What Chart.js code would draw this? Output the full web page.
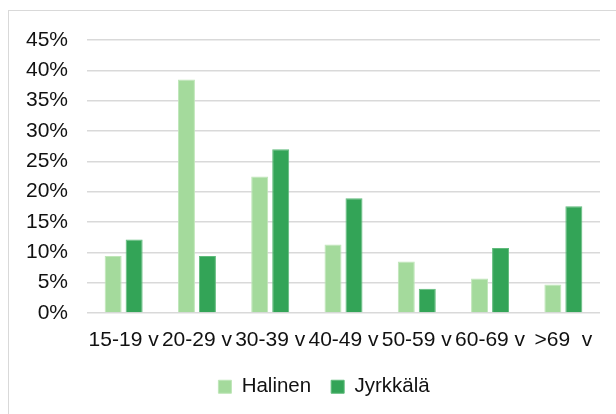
<!DOCTYPE html>
<html>
<head>
<meta charset="utf-8">
<script src="https://cdn.jsdelivr.net/npm/chart.js@4"></script>
<style>
  html, body { margin: 0; padding: 0; background: #fff; }
  #wrap { position: relative; width: 616px; height: 414px; overflow: hidden; }
  #frame { position: absolute; left: 8px; top: 10px; width: 700px; height: 500px; border: 1px solid #d9d9d9; }
  canvas { position: absolute; left: 0; top: 0; }
</style>
</head>
<body>
<div id="wrap">
  <div id="frame"></div>
  <canvas id="chart" width="616" height="414"></canvas>
</div>
<script>
// age groups
const categories = ['15-19 v', '20-29 v', '30-39 v', '40-49 v', '50-59 v', '60-69 v', '>69  v'];
// share of residents, %
const halinen = [9.4, 38.5, 22.5, 11.3, 8.5, 5.7, 4.7];
const jyrkkala = [12.1, 9.4, 27.0, 18.9, 4.0, 10.7, 17.6];
const seriesNames = ['Halinen', 'Jyrkkälä'];

Chart.defaults.font.family = '"Liberation Sans", Arial, sans-serif';
Chart.defaults.color = '#111';

// the original legend is centred on a wider frame than the visible crop
const shiftLegend = {
  id: 'shiftLegend',
  beforeDraw(chart) {
    chart.legend.left = 48;
    chart.legend.right = 600;
  }
};

const ctx = document.getElementById('chart').getContext('2d');
new Chart(ctx, {
  type: 'bar',
  data: {
    labels: categories,
    datasets: [{
      label: seriesNames[0],
      data: halinen,
      backgroundColor: '#a4da9c',
      borderColor: '#bfe6b8',
      borderWidth: 1
    }, {
      label: seriesNames[1],
      data: jyrkkala,
      backgroundColor: '#33a457',
      borderColor: '#5fbb7b',
      borderWidth: 1
    }]
  },
  plugins: [shiftLegend],
  options: {
    responsive: false,
    animation: false,
    layout: { padding: { left: 0, right: 16, top: 40, bottom: 7 } },
    datasets: { bar: { categoryPercentage: 0.573, barPercentage: 0.81 } },
    scales: {
      x: {
        afterFit: s => { s.height = 43.5; },
        grid: { display: false, drawTicks: false },
        border: { display: false },
        ticks: {
          font: { size: 21 },
          padding: 15,
          autoSkip: false,
          maxRotation: 0,
          minRotation: 0
        }
      },
      y: {
        min: 0,
        max: 45,
        afterFit: s => { s.width = 87; },
        grid: { color: '#d9d9d9', lineWidth: 1.5, drawTicks: false },
        border: { display: false },
        ticks: {
          stepSize: 5,
          font: { size: 21 },
          padding: 19,
          callback: v => v + '%'
        }
      }
    },
    plugins: {
      legend: {
        position: 'bottom',
        labels: {
          font: { size: 20.5 },
          boxWidth: 13,
          boxHeight: 13,
          padding: 20
        }
      },
      tooltip: { enabled: false }
    }
  }
});
</script>
</body>
</html>
